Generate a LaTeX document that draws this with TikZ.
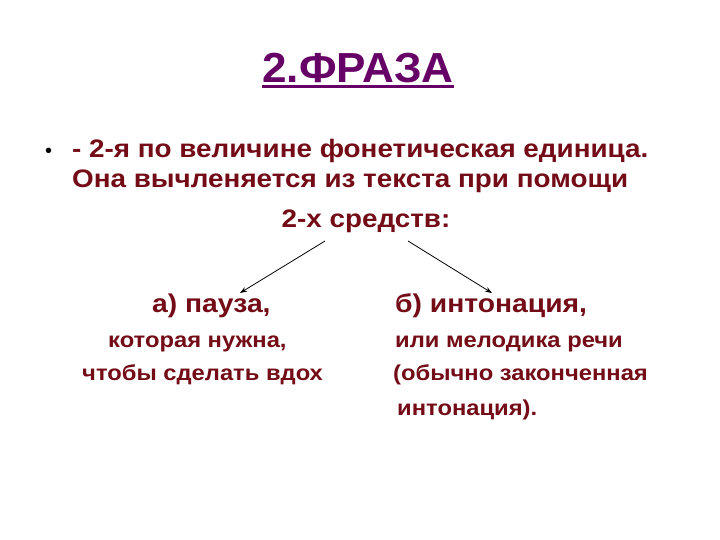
\documentclass[tikz,border=0pt]{standalone}
\usepackage{fontspec}
\setmainfont{Liberation Sans}
\newfontfamily\widesans[FakeStretch=1.1]{Liberation Sans}
\newfontfamily\titlesans[FakeStretch=1.05]{Liberation Sans}
\usetikzlibrary{arrows.meta}
\definecolor{txtred}{RGB}{115,12,22}
\definecolor{ttlpurple}{RGB}{102,0,102}
\tikzset{
  body/.style={anchor=base west, inner sep=0pt, text=txtred, font=\widesans\bfseries\fontsize{25.3}{30}\selectfont},
  head/.style={anchor=base west, inner sep=0pt, text=txtred, font=\widesans\bfseries\fontsize{25.7}{30}\selectfont},
  small/.style={anchor=base west, inner sep=0pt, text=txtred, font=\widesans\bfseries\fontsize{21.6}{26}\selectfont},
  arr/.style={-{Stealth[length=7pt,width=5pt]}, line width=0.8pt, black}
}
\begin{document}
\begin{tikzpicture}[x=1pt,y=-1pt]
\useasboundingbox[fill=white] (0,0) rectangle (720,540);
% title
\node[anchor=base, inner sep=0pt, text=ttlpurple, font=\titlesans\bfseries\fontsize{42}{48}\selectfont] (title) at (358,83) {2.ФРАЗА};
\draw[ttlpurple, line width=3pt] (title.west |- 0,87) -- (title.east |- 0,87);
% bullet
\node[anchor=base west, inner sep=0pt, text=black, font=\fontsize{20}{24}\selectfont] (bul) at (45,158) {•};
\node[body] (l1) at (72,158) {- 2-я по величине фонетическая единица.};
\node[body] (l2) at (72,188) {Она вычленяется из текста при помощи};
\node[body, anchor=base] (l3) at (366,228) {2-х средств:};
% left branch
\node[head] (a1) at (152,312) {а) пауза,};
\node[small] (a2) at (108,347) {которая нужна,};
\node[small] (a3) at (82,380) {чтобы сделать вдох};
% right branch
\node[head] (b1) at (395,312) {б) интонация,};
\node[small] (b2) at (395,347) {или мелодика речи};
\node[small] (b3) at (393,380) {(обычно законченная};
\node[small] (b4) at (397,415) {интонация).};
% arrows
\coordinate (sL) at (325,241);
\coordinate (sR) at (408,241);
\coordinate (tL) at (240,293);
\coordinate (tR) at (492,293);
\draw[arr] (sL) -- (tL);
\draw[arr] (sR) -- (tR);
\end{tikzpicture}
\end{document}
